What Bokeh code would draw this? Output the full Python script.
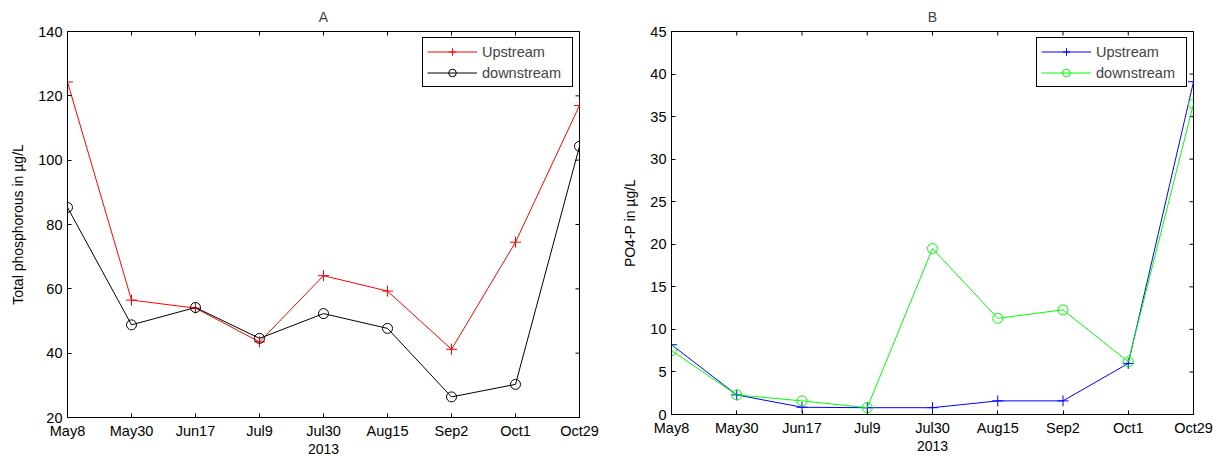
import math
from bokeh.plotting import figure
from bokeh.layouts import row
from bokeh.models import FixedTicker, Range1d, Legend, LegendItem
from bokeh.embed import file_html
from bokeh.resources import INLINE

dates = ["May8", "May30", "Jun17", "Jul9", "Jul30", "Aug15", "Sep2", "Oct1", "Oct29"]
tp_up = [124.3, 56.5, 54.0, 43.5, 64.1, 59.3, 41.2, 74.5, 117.0]
tp_down = [85.3, 48.8, 54.2, 44.6, 52.3, 47.7, 26.4, 30.3, 104.3]
po4_up = [8.2, 2.3, 0.85, 0.8, 0.8, 1.6, 1.6, 6.0, 39.1]
po4_down = [7.5, 2.3, 1.6, 0.8, 19.5, 11.3, 12.3, 6.2, 36.5]
tp_ticks = [20, 40, 60, 80, 100, 120, 140]
po4_ticks = [0, 5, 10, 15, 20, 25, 30, 35, 40, 45]

FONT = "Liberation Sans"
FS = "14.5px"
LFS = "14px"


def panel(title, ylabel, yticks, up, down, c_up, c_down, fw, fh, bl, br):
    xs = list(range(len(dates)))
    xmax = len(dates) - 1
    ymin, ymax = yticks[0], yticks[-1]
    p = figure(frame_width=fw, frame_height=fh, output_backend="svg", toolbar_location=None,
               x_range=Range1d(0, xmax), y_range=Range1d(ymin, ymax),
               min_border_left=bl, min_border_right=br, min_border_top=30, min_border_bottom=0)
    p.title.text = title
    p.title.align = "center"
    p.title.text_font = FONT
    p.title.text_font_size = LFS
    p.title.text_font_style = "normal"
    p.title.standoff = 13
    p.xgrid.grid_line_color = None
    p.ygrid.grid_line_color = None
    p.outline_line_color = "black"
    p.outline_line_alpha = 1
    p.outline_line_width = 1
    p.background_fill_color = "white"
    p.border_fill_color = "white"

    p.xaxis.ticker = FixedTicker(ticks=xs)
    p.xaxis.major_label_overrides = {i: d for i, d in enumerate(dates)}
    p.yaxis.ticker = FixedTicker(ticks=yticks)
    p.xaxis.axis_label = "2013"
    p.yaxis.axis_label = ylabel
    for ax in (p.xaxis[0], p.yaxis[0]):
        ax.major_tick_in = 4
        ax.major_tick_out = 0
        ax.minor_tick_in = 0
        ax.minor_tick_out = 0
        ax.axis_line_color = "black"
        ax.major_tick_line_color = "black"
        ax.major_label_text_font = FONT
        ax.major_label_text_font_size = FS
        ax.major_label_text_color = "black"
        ax.axis_label_text_font = FONT
        ax.axis_label_text_font_size = LFS
        ax.axis_label_text_font_style = "normal"
        ax.axis_label_text_color = "black"
        ax.major_label_standoff = 5
    p.xaxis.axis_label_standoff = 2
    p.yaxis.axis_label_standoff = 9

    # mirrored inward ticks on the top and right edges
    p.scatter(xs, [ymax] * len(xs), marker="dash", angle=math.pi / 2, size=8,
              line_color="black", line_width=1)
    p.scatter([xmax] * len(yticks), yticks, marker="dash", size=8,
              line_color="black", line_width=1)

    l1 = p.line(xs, up, line_color=c_up, line_width=1)
    m1 = p.scatter(xs, up, marker="cross", size=11, line_color=c_up, fill_color=None, line_width=1)
    l2 = p.line(xs, down, line_color=c_down, line_width=1)
    m2 = p.scatter(xs, down, marker="circle", size=10, line_color=c_down, fill_color=None, line_width=1)

    leg = Legend(items=[LegendItem(label="Upstream", renderers=[l1, m1]),
                        LegendItem(label="downstream", renderers=[l2, m2])],
                 location="top_right")
    leg.border_line_color = "black"
    leg.border_line_width = 1
    leg.border_line_alpha = 1
    leg.background_fill_alpha = 1
    leg.label_text_font = FONT
    leg.label_text_font_size = FS
    leg.glyph_width = 50
    leg.glyph_height = 19
    leg.label_height = 19
    leg.label_width = 86
    leg.spacing = 2
    leg.padding = 4
    leg.margin = 6
    leg.label_standoff = 5
    p.add_layout(leg)
    return p


pa = panel("A", "Total phosphorous in µg/L", tp_ticks, tp_up, tp_down, "#ff0000", "#000000",
           512, 386, 67, 29)
pb = panel("B", "PO4-P in µg/L", po4_ticks, po4_up, po4_down, "#0000ff", "#00ff00",
           522, 383, 63, 20)

layout = row(pa, pb)
open("out.html", "w").write(file_html(layout, INLINE))
